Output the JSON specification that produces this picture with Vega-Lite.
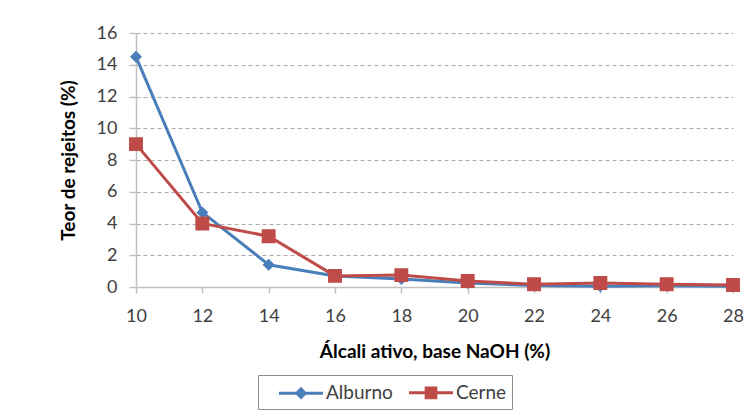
{
  "$schema": "https://vega.github.io/schema/vega-lite/v6.json",
  "width": 597,
  "height": 254,
  "autosize": "none",
  "padding": {"left": 136, "top": 33, "right": 22, "bottom": 125},
  "background": "white",
  "config": {"view": {"stroke": null}, "font": "Lato"},
  "data": {
    "values": [
      {"alcali": 10, "teor": 14.5, "serie": "Alburno"},
      {"alcali": 12, "teor": 4.7, "serie": "Alburno"},
      {"alcali": 14, "teor": 1.4, "serie": "Alburno"},
      {"alcali": 16, "teor": 0.7, "serie": "Alburno"},
      {"alcali": 18, "teor": 0.5, "serie": "Alburno"},
      {"alcali": 20, "teor": 0.25, "serie": "Alburno"},
      {"alcali": 22, "teor": 0.1, "serie": "Alburno"},
      {"alcali": 24, "teor": 0.05, "serie": "Alburno"},
      {"alcali": 26, "teor": 0.08, "serie": "Alburno"},
      {"alcali": 28, "teor": 0.05, "serie": "Alburno"},
      {"alcali": 10, "teor": 9.0, "serie": "Cerne"},
      {"alcali": 12, "teor": 4.0, "serie": "Cerne"},
      {"alcali": 14, "teor": 3.2, "serie": "Cerne"},
      {"alcali": 16, "teor": 0.7, "serie": "Cerne"},
      {"alcali": 18, "teor": 0.75, "serie": "Cerne"},
      {"alcali": 20, "teor": 0.38, "serie": "Cerne"},
      {"alcali": 22, "teor": 0.17, "serie": "Cerne"},
      {"alcali": 24, "teor": 0.25, "serie": "Cerne"},
      {"alcali": 26, "teor": 0.17, "serie": "Cerne"},
      {"alcali": 28, "teor": 0.13, "serie": "Cerne"}
    ]
  },
  "encoding": {
    "x": {
      "field": "alcali", "type": "quantitative",
      "scale": {"domain": [10, 28], "nice": false, "zero": false},
      "axis": {
        "values": [10, 12, 14, 16, 18, 20, 22, 24, 26, 28],
        "title": "Álcali ativo, base NaOH (%)",
        "grid": false,
        "domainColor": "#c0c0c0", "domainWidth": 1.5,
        "tickColor": "#c0c0c0", "tickSize": 6, "tickWidth": 1.5,
        "labelFont": "Lato", "labelFontSize": 18, "labelColor": "#404040", "labelPadding": 14,
        "labelFlush": false,
        "titleFont": "Lato", "titleFontSize": 19, "titleFontWeight": "bold", "titleColor": "#000000", "titlePadding": 17
      }
    },
    "y": {
      "field": "teor", "type": "quantitative",
      "scale": {"domain": [0, 16], "nice": false},
      "axis": {
        "values": [0, 2, 4, 6, 8, 10, 12, 14, 16],
        "title": "Teor de rejeitos (%)",
        "grid": true, "gridDash": [4, 3], "gridColor": "#ababab", "gridWidth": 1,
        "domainColor": "#c0c0c0", "domainWidth": 1.5,
        "tickColor": "#c0c0c0", "tickSize": 7, "tickWidth": 1.5,
        "labelFont": "Lato", "labelFontSize": 18, "labelColor": "#404040", "labelPadding": 12,
        "labelFlush": false,
        "titleFont": "Lato", "titleFontSize": 19, "titleFontWeight": "bold", "titleColor": "#000000", "titlePadding": 18
      }
    },
    "color": {
      "field": "serie", "type": "nominal",
      "scale": {"domain": ["Alburno", "Cerne"], "range": ["#4A7EBB", "#BE4B48"]},
      "legend": {
        "orient": "none", "legendX": 122, "legendY": 342,
        "direction": "horizontal", "title": null,
        "strokeColor": "#8c8c8c", "padding": 5,
        "symbolSize": 484, "symbolStrokeWidth": 3,
        "symbolOffset": 25.5,
        "labelFont": "Lato", "labelFontSize": 19, "labelColor": "#404040",
        "columnPadding": -2, "labelOffset": 12.5
      }
    }
  },
  "layer": [
    {"mark": {"type": "line", "strokeWidth": 3}},
    {
      "mark": {"type": "point", "filled": true, "opacity": 1, "size": 1000},
      "encoding": {
        "shape": {
          "field": "serie", "type": "nominal",
          "scale": {"domain": ["Alburno", "Cerne"], "range": ["M-2,0L2,0M0,-0.38L0.38,0L0,0.38L-0.38,0Z", "M-2,0L2,0M-0.44,-0.44L0.44,-0.44L0.44,0.44L-0.44,0.44Z"]},
          "legend": {
            "orient": "none", "legendX": 122, "legendY": 342,
            "direction": "horizontal", "title": null,
            "strokeColor": "#8c8c8c", "padding": 5,
            "symbolSize": 484, "symbolStrokeWidth": 3,
            "symbolOffset": 25.5,
            "labelFont": "Lato", "labelFontSize": 19, "labelColor": "#404040",
            "columnPadding": -2, "labelOffset": 12.5
          }
        }
      }
    }
  ]
}
